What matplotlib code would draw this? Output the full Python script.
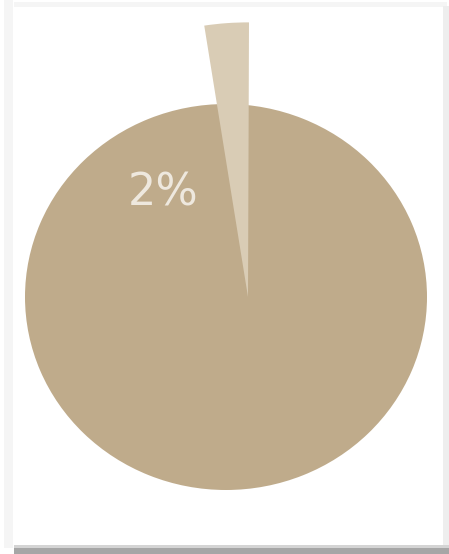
import matplotlib.pyplot as plt
from matplotlib.patches import Rectangle

shares = [2.5, 97.5]
labels = ['2%', '98%']
colors = ['#d9ccb5', '#bfab8b']

W, H = 449, 554
sy = 201 / 193  # slight horizontal stretch of the pie


def py(y):
    # pixel row -> data y
    return (H - y) * sy


fig = plt.figure(figsize=(W / 100, H / 100), dpi=100, facecolor='white')

# card frame and drop shadow
def frame_rect(x0, y0, x1, y1, color):
    fig.add_artist(Rectangle((x0 / W, 1 - y1 / H), (x1 - x0) / W, (y1 - y0) / H,
                             transform=fig.transFigure, color=color, lw=0, zorder=0))

frame_rect(4, 0, 13, 548, '#f5f5f5')
frame_rect(14, 2, 447, 7, '#f5f5f5')
frame_rect(443, 6, 449, 548, '#eeeeee')
frame_rect(14, 545, 449, 548, '#d4d4d4')
frame_rect(14, 548, 449, 554, '#a6a6a6')

ax = fig.add_axes([0, 0, 1, 1])
ax.patch.set_alpha(0)

# large slice drawn as the full disc
ax.pie([shares[1]], colors=[colors[1]], center=(226, py(297)), radius=201,
       wedgeprops=dict(linewidth=0))

# small slice pulled out, drawn on top
wedges, _ = ax.pie(shares, colors=[colors[0], 'none'], startangle=89.8,
                   center=(248, py(297)), radius=286,
                   wedgeprops=dict(linewidth=0))
for w in wedges:
    w.set_zorder(3)

ax.text(163, py(193), labels[0], ha='center', va='center', fontsize=32,
        color='#eee8de', family='DejaVu Sans', zorder=4)

ax.set_xlim(0, W)
ax.set_ylim(0, H * sy)
ax.set_aspect('auto')
ax.axis('off')

plt.savefig('out.png', dpi=100)
plt.close()
